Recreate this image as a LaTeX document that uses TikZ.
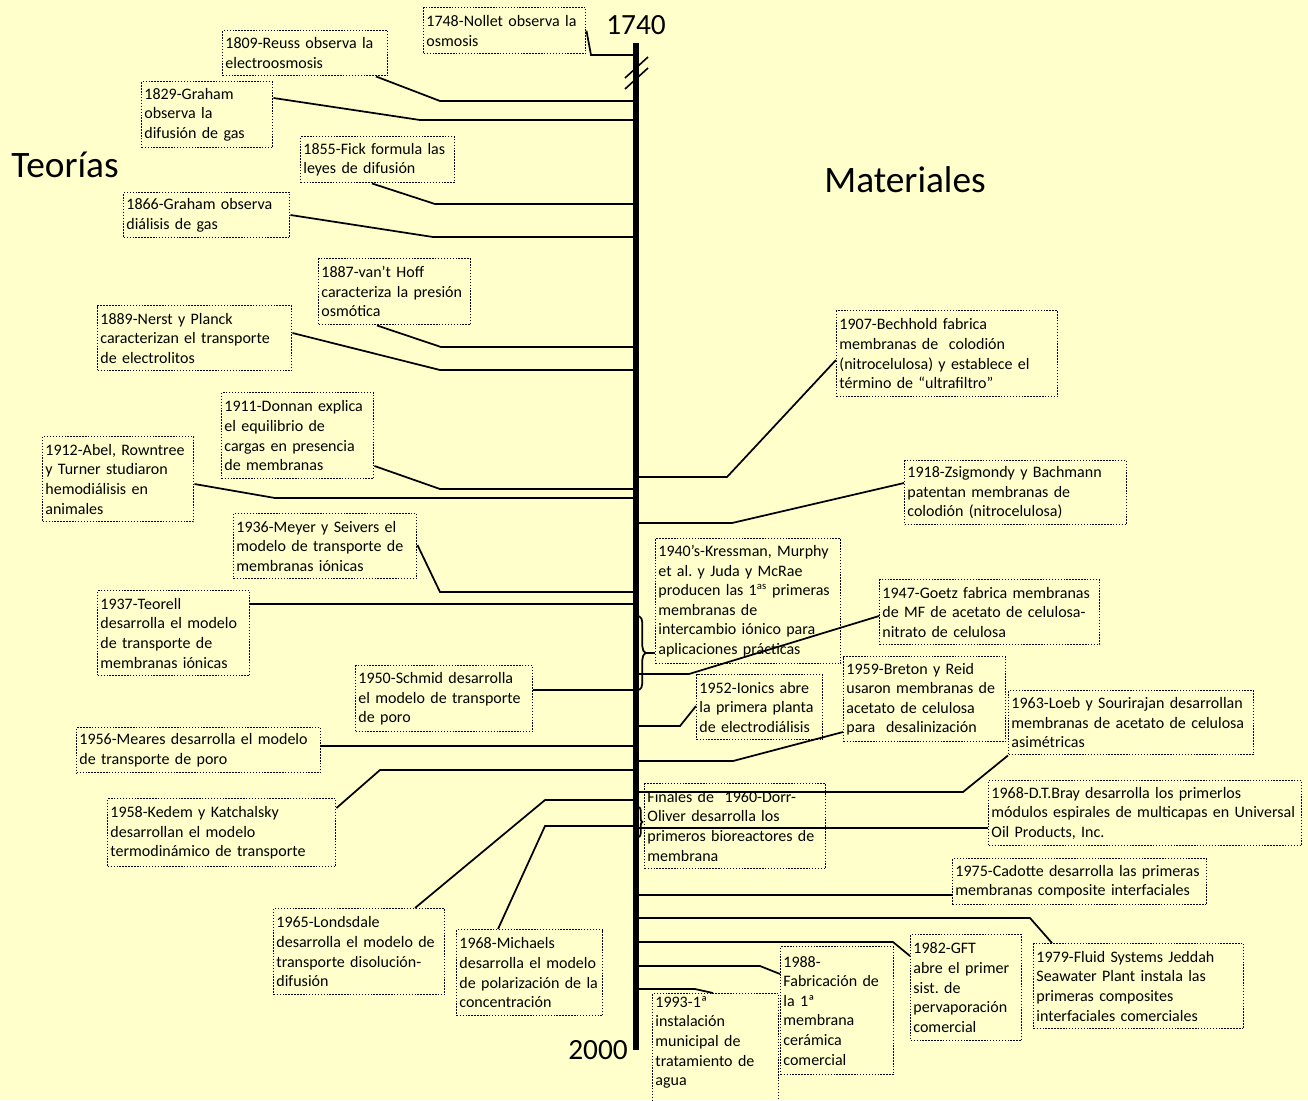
\documentclass[tikz,border=0pt]{standalone}
\usepackage{fontspec}
\setmainfont{Carlito}
\frenchspacing
\usetikzlibrary{positioning,decorations.pathreplacing}
\definecolor{fondo}{HTML}{FFFFCC}

\begin{document}
\begin{tikzpicture}[
  x=0.75pt, y=-0.75pt,
  caja/.style={draw, line width=1.1pt, dash pattern=on 1.1pt off 1.1pt, anchor=north west, align=left, inner xsep=2pt, inner ysep=2pt, font=\fontsize{12}{14.7}\selectfont},
  linea/.style={line width=1.3pt},
  titulo/.style={font=\fontsize{28}{32}\selectfont},
  anio/.style={font=\fontsize{22}{26}\selectfont, inner sep=0pt}
]
\fill[fondo] (0,0) rectangle (1308,1100);
\useasboundingbox (0,0) rectangle (1308,1100);

% eje del tiempo
\coordinate (eje) at (636,43);
\coordinate (ejeabajo) at (636,1050);
\draw[line width=3.8pt] (eje) -- (ejeabajo);
\draw[line width=1.2pt] (625,78) -- (648,57) (625,89) -- (648,68);
\node[anio, above=6pt of eje] (inicio) {1740};
\node[anio, left=6pt of ejeabajo] (fin) {2000};

\node[titulo] (teorias) at (65,165) {Teorías};
\node[titulo] (materiales) at (905,180) {Materiales};

% teorias (izquierda)
\node[caja, text width=117.5pt, minimum height=34.5pt] (nollet) at (423,7) {1748-Nollet observa la\\osmosis};
\node[caja, text width=119.75pt, minimum height=33.75pt] (reuss) at (222,30) {1809-Reuss observa la\\electroosmosis};
\node[caja, text width=94.25pt, minimum height=49.5pt] (graham1) at (141,81) {1829-Graham\\observa la\\difusión de gas};
\node[caja, text width=111.5pt, minimum height=34.5pt] (fick) at (300,136) {1855-Fick formula las\\leyes de difusión};
\node[caja, text width=120.5pt, minimum height=33.75pt] (graham2) at (123,192) {1866-Graham observa\\diálisis de gas};
\node[caja, text width=110pt, minimum height=49.5pt] (vanthoff) at (318,258) {1887-van’t Hoff\\caracteriza la presión\\osmótica};
\node[caja, text width=141.5pt, minimum height=48.75pt] (nernst) at (97,305) {1889-Nerst y Planck\\caracterizan el transporte\\de electrolitos};
\node[caja, text width=110pt, minimum height=64.5pt] (donnan) at (221,392) {1911-Donnan explica\\el equilibrio de\\cargas en presencia\\de membranas};
\node[caja, text width=109.25pt, minimum height=63.75pt] (abel) at (42,436) {1912-Abel, Rowntree\\y Turner studiaron\\hemodiálisis en\\animales};
\node[caja, text width=133.25pt, minimum height=48.75pt] (meyer) at (233,513) {1936-Meyer y Seivers el\\modelo de transporte de\\membranas iónicas};
\node[caja, text width=110pt, minimum height=63.75pt] (teorell) at (97,590) {1937-Teorell\\desarrolla el modelo\\de transporte de\\membranas iónicas};
\node[caja, text width=128.75pt, minimum height=49.5pt] (schmid) at (355,665) {1950-Schmid desarrolla\\el modelo de transporte\\de poro};
\node[caja, text width=179pt, minimum height=33.75pt] (meares) at (76,727) {1956-Meares desarrolla el modelo\\de transporte de poro};
\node[caja, text width=167pt, minimum height=51pt] (kedem) at (107,798) {1958-Kedem y Katchalsky\\desarrollan el modelo\\termodinámico de transporte};
\node[caja, text width=124.25pt, minimum height=64.5pt] (lonsdale) at (273,908) {1965-Londsdale\\desarrolla el modelo de\\transporte disolución-\\difusión};
\node[caja, text width=105.5pt, minimum height=64.5pt] (michaels) at (456,929) {1968-Michaels\\desarrolla el modelo\\de polarización de la\\concentración};

% materiales (derecha)
\node[caja, text width=161.75pt, minimum height=64.5pt] (bechhold) at (836,310) {1907-Bechhold fabrica\\membranas de\ \ colodión\\(nitrocelulosa) y establece el\\término de “ultrafiltro”};
\node[caja, text width=162.5pt, minimum height=48pt] (zsigmondy) at (904,460) {1918-Zsigmondy y Bachmann\\patentan membranas de\\colodión (nitrocelulosa)};
\node[caja, text width=134.75pt, minimum height=93.75pt] (kressman) at (655,538) {1940’s-Kressman, Murphy\\et al. y Juda y McRae\\producen las 1\textsuperscript{as} primeras\\membranas de\\intercambio iónico para\\aplicaciones prácticas};
\node[caja, text width=161pt, minimum height=48.75pt] (goetz) at (879,579) {1947-Goetz fabrica membranas\\de MF de acetato de celulosa-\\nitrato de celulosa};
\node[caja, text width=90.5pt, minimum height=48.75pt] (ionics) at (696,674) {1952-Ionics abre\\la primera planta\\de electrodiálisis};
\node[caja, text width=117.5pt, minimum height=63.75pt] (breton) at (843,656) {1959-Breton y Reid\\usaron membranas de\\acetato de celulosa\\para\ \ desalinización};
\node[caja, text width=179.75pt, minimum height=48pt] (loeb) at (1008,690) {1963-Loeb y Sourirajan desarrollan\\membranas de acetato de celulosa\\asimétricas};
\node[caja, text width=131.75pt, minimum height=63.75pt] (dorr) at (644,783) {Finales de\ \ 1960-Dorr-\\Oliver desarrolla los\\primeros bioreactores de\\membrana};
\node[caja, text width=230.75pt, minimum height=48.75pt] (bray) at (988,780) {1968-D.T.Bray desarrolla los primerlos\\módulos espirales de multicapas en Universal\\Oil Products, Inc.};
\node[caja, text width=186.5pt, minimum height=34.5pt] (cadotte) at (952,858) {1975-Cadotte desarrolla las primeras\\membranas composite interfaciales};
\node[caja, text width=153.5pt, minimum height=63.75pt] (fluid) at (1033,943) {1979-Fluid Systems Jeddah\\Seawater Plant instala las\\primeras composites\\interfaciales comerciales};
\node[caja, text width=79.25pt, minimum height=79.5pt] (gft) at (910,934) {1982-GFT\\abre el primer\\sist. de\\pervaporación\\comercial};
\node[caja, text width=80.75pt, minimum height=96pt] (ceramica) at (780,946) {1988-\\Fabricación de\\la 1ª\\membrana\\cerámica\\comercial};
\node[caja, text width=90.5pt] (agua) at (652,993) {1993-1ª\\instalación\\municipal de\\tratamiento de\\agua\\\mbox{}};

% conectores izquierda
\draw[linea] (nollet.east) -- (591,55) -- (eje |- 0,55);
\draw[linea] (reuss.south -| 376,0) -- (440,101) -- (eje |- 0,101);
\draw[linea] (graham1.east |- 0,98) -- (420,120) -- (eje |- 0,120);
\draw[linea] (fick.south -| 372,0) -- (435,204) -- (eje |- 0,204);
\draw[linea] (graham2.east |- 0,215) -- (433,237) -- (eje |- 0,237);
\draw[linea] (vanthoff.south -| 377,0) -- (441,347) -- (eje |- 0,347);
\draw[linea] (nernst.east |- 0,333) -- (440,370) -- (eje |- 0,370);
\draw[linea] (donnan.east |- 0,466) -- (440,489) -- (eje |- 0,489);
\draw[linea] (abel.east |- 0,484) -- (275,498) -- (eje |- 0,498);
\draw[linea] (meyer.east |- 0,545) -- (440,592) -- (eje |- 0,592);
\draw[linea] (teorell.east |- 0,604) -- (eje |- 0,604);
\draw[linea] (schmid.east |- 0,690) -- (eje |- 0,690);
\draw[linea] (meares.east |- 0,746) -- (eje |- 0,746);
\draw[linea] (kedem.east |- 0,808) -- (380,770) -- (eje |- 0,770);
\draw[linea] (lonsdale.north -| 415,0) -- (545,800) -- (eje |- 0,800);
\draw[linea] (michaels.north -| 498,0) -- (545,826) -- (eje |- 0,826);

% conectores derecha
\draw[linea] (bechhold.west |- 0,360) -- (727,477) -- (eje |- 0,477);
\draw[linea] (zsigmondy.west |- 0,483) -- (732,523) -- (eje |- 0,523);
\draw[linea, decorate, decoration={brace, amplitude=5pt}] (639,616) -- (639,690);
\draw[linea] (646,653) -- (kressman.west |- 0,653);
\draw[linea] (goetz.west |- 0,616) -- (689,674) -- (eje |- 0,674);
\draw[linea] (ionics.west |- 0,706) -- (680,726) -- (eje |- 0,726);
\draw[linea] (breton.west |- 0,732) -- (733,761) -- (eje |- 0,761);
\draw[linea] (loeb.south west) -- (963,792) -- (eje |- 0,792);
\draw[linea, decorate, decoration={brace, amplitude=2.5pt}] (639,807) -- (639,837);
\draw[linea] (bray.west |- 0,828) -- (eje |- 0,828);
\draw[linea] (cadotte.west |- 0,895) -- (eje |- 0,895);
\draw[linea] (fluid.north -| 1052,0) -- (1030,918) -- (eje |- 0,918);
\draw[linea] (gft.west |- 0,956) -- (893,942) -- (eje |- 0,942);
\draw[linea] (ceramica.west |- 0,974) -- (760,966) -- (eje |- 0,966);
\draw[linea] (agua.north -| 713,0) -- (695,989) -- (eje |- 0,989);
\end{tikzpicture}
\end{document}
